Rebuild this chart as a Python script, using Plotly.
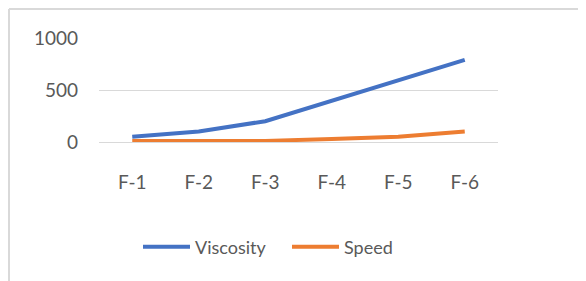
import plotly.graph_objects as go

categories = ["F-1", "F-2", "F-3", "F-4", "F-5", "F-6"]
viscosity = [50, 100, 200, 400, 600, 790]
speed = [10, 10, 10, 30, 50, 100]
y_ticks = [0, 500, 1000]

OFF = 8  # page body margin
W, H = 586 - OFF, 281 - OFF
L, R, T, B = 99 - OFF, 88, 38 - OFF, 139
pw, ph = W - L - R, H - T - B

fig = go.Figure()
fig.add_trace(go.Scatter(x=categories, y=viscosity, name="Viscosity", mode="lines",
                         line=dict(color="#4472C4", width=4), cliponaxis=False))
fig.add_trace(go.Scatter(x=categories, y=speed, name="Speed", mode="lines",
                         line=dict(color="#ED7D31", width=4), cliponaxis=False))

fx = lambda px: (px - OFF - L) / pw
fy = lambda py: (H - B - (py - OFF)) / ph

fig.add_shape(type="line", xref="paper", yref="paper", x0=fx(9), x1=fx(600), y0=fy(9), y1=fy(9),
              line=dict(color="#d9d9d9", width=2))
fig.add_shape(type="line", xref="paper", yref="paper", x0=fx(9), x1=fx(9), y0=fy(9), y1=fy(300),
              line=dict(color="#d9d9d9", width=2))

fig.update_layout(
    width=W, height=H,
    margin=dict(l=L, r=R, t=T, b=B, autoexpand=False),
    paper_bgcolor="white", plot_bgcolor="white",
    font=dict(family="Lato", color="#595959", size=19),
    showlegend=True,
    legend=dict(orientation="h", x=fx(138), xanchor="left", y=fy(247), yanchor="middle",
                font=dict(size=18, color="#595959"), itemwidth=47,
                entrywidth=87, entrywidthmode="pixels"),
    xaxis=dict(range=[-0.5, 5.5], showgrid=False, showline=False, zeroline=False, automargin=False,
               ticks="", ticklabelstandoff=27, tickfont=dict(size=19)),
    yaxis=dict(range=[0, 1000], tickvals=y_ticks, showgrid=True, gridcolor="#d9d9d9", gridwidth=1,
               zeroline=True, zerolinecolor="#d9d9d9", zerolinewidth=1, showline=False, automargin=False,
               ticks="", ticklabelstandoff=20, tickfont=dict(size=19)),
)

fig.write_html("out.html")
